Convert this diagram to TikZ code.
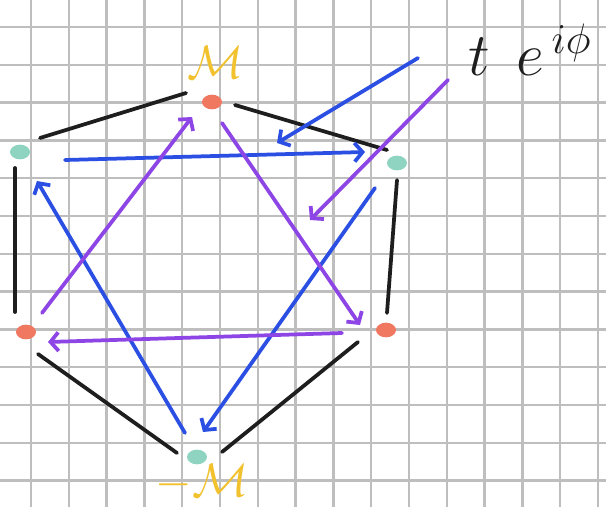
\RequirePackage{fix-cm}
\documentclass[tikz,border=0pt]{standalone}
\usetikzlibrary{arrows.meta,calc,shapes.geometric}
\definecolor{ink}{HTML}{1E1E1E}
\definecolor{gridgray}{HTML}{BEBEBE}
\definecolor{hopblue}{HTML}{2B4FE3}
\definecolor{hopviolet}{HTML}{8E45E6}
\definecolor{siteteal}{HTML}{8FD4C1}
\definecolor{siteorange}{HTML}{F07860}
\definecolor{fluxgold}{HTML}{F2C12E}

\begin{document}
\begin{tikzpicture}[x=0.03cm,y=-0.03cm,line cap=round,line join=round,
  >={Straight Barb[length=2.4mm,width=5.6mm]},
  site/.style={ellipse,inner sep=0pt,minimum width=0.6cm,minimum height=0.44cm},
  bond/.style={line width=3.2pt,ink},
  hop/.style={line width=3.2pt,->},
  gridline/.style={line width=2pt,gridgray}]
  \useasboundingbox (0,0) rectangle (606,507);
  \fill[white] (0,0) rectangle (606,507);

  % Squared paper.
  \foreach \i in {0,...,15}
    \draw[gridline] (31+37.8*\i,0) -- (31+37.8*\i,507);
  \foreach \j in {0,...,12}
    \draw[gridline] (0,27+37.8*\j) -- (606,27+37.8*\j);

  % Six sites of the ring.
  \node[site,fill=siteorange] (top) at (212,102) {};
  \node[site,fill=siteteal] (ul) at (20,152) {};
  \node[site,fill=siteteal] (ur) at (397,163) {};
  \node[site,fill=siteorange] (ll) at (26,332) {};
  \node[site,fill=siteorange] (lr) at (386,330) {};
  \node[site,fill=siteteal] (bot) at (197,457) {};
  \node[text=fluxgold,font=\fontsize{40}{44}\selectfont] (masstop) at (216,62) {$\mathcal{M}$};
  \node[text=fluxgold,font=\fontsize{40}{44}\selectfont] (massbot) at (202,482) {$-\mathcal{M}$};
  \node[text=ink,font=\fontsize{52}{56}\selectfont,anchor=west,inner sep=0pt] (hopping) at (468,50) {$t\;\,e^{\,i\phi}$};

  % Nearest-neighbour bonds.
  \draw[bond] ($(top)+(-26,-9)$) -- ($(ul)+(20,-14)$);
  \draw[bond] ($(top)+(23,3)$) -- ($(ur)+(-10,-13)$);
  \draw[bond] ($(ul)+(-5,16)$) -- ($(ll)+(-11,-20)$);
  \draw[bond] ($(ur)+(0,17)$) -- ($(lr)+(1,-17)$);
  \draw[bond] ($(ll)+(12,22)$) -- ($(bot)+(-20,-4)$);
  \draw[bond] ($(lr)+(-28,12)$) -- ($(bot)+(25,-5)$);

  % Next-nearest-neighbour hops, blue sublattice.
  \draw[hop,hopblue] ($(ul)+(45,8)$) -- ($(ur)+(-32,-11)$);
  \draw[hop,hopblue] ($(bot)+(-12,-24)$) -- ($(ul)+(17,29)$);
  \draw[hop,hopblue] ($(ur)+(-22,25)$) -- ($(bot)+(6,-25)$);

  % Next-nearest-neighbour hops, violet sublattice.
  \draw[hop,hopviolet] ($(ll)+(16,-19)$) -- ($(top)+(-20,15)$);
  \draw[hop,hopviolet] ($(top)+(10,21)$) -- ($(lr)+(-26,-5)$);
  \draw[hop,hopviolet] ($(lr)+(-44,3)$) -- ($(ll)+(22,10)$);

  % Pointers from the hopping label.
  \coordinate (bluetip) at (277,143);
  \coordinate (violettip) at (310,220);
  \draw[hop,hopblue] ($(hopping.west)+(-50,8)$) -- (bluetip);
  \draw[hop,hopviolet] ($(hopping.west)+(-20,30)$) -- (violettip);
\end{tikzpicture}
\end{document}
